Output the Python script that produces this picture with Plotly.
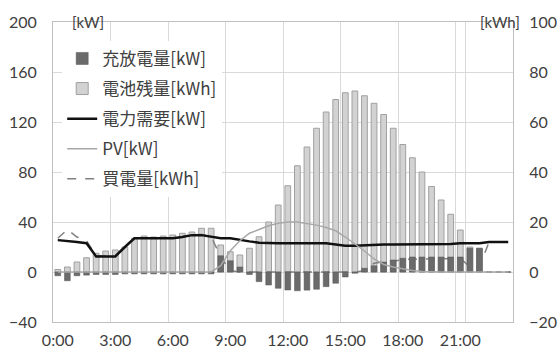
import plotly.graph_objects as go

times = ["0:00", "0:30", "1:00", "1:30", "2:00", "2:30", "3:00", "3:30",
         "4:00", "4:30", "5:00", "5:30", "6:00", "6:30", "7:00", "7:30",
         "8:00", "8:30", "9:00", "9:30", "10:00", "10:30", "11:00", "11:30",
         "12:00", "12:30", "13:00", "13:30", "14:00", "14:30", "15:00", "15:30",
         "16:00", "16:30", "17:00", "17:30", "18:00", "18:30", "19:00", "19:30",
         "20:00", "20:30", "21:00", "21:30", "22:00", "22:30", "23:00", "23:30"]

charge_kw = [-3, -7, -3, -2.5, -2, -2, -2, -1.5,
             -1.5, -1.5, -1.5, -1.5, -1.5, -1.5, -1.5, -1.5,
             -1.5, 13, 9, 4, -2, -7.7, -10.4, -13,
             -14.4, -15, -14.5, -13.8, -11.7, -9, -4, -1,
             3, 5, 8, 9.6, 11, 12, 12, 12,
             12, 12, 12, 19, 19, 0, 0, 0]

battery_kwh = [1.0, 2.0, 4.0, 5.7, 7.5, 8.4, 8.8, 10.0,
               13.5, 14.4, 14.0, 14.4, 14.8, 15.5, 16.0, 17.5,
               17.5, 10.8, 8.1, 6.8, 9.5, 14.1, 20.0, 26.8,
               34.5, 42.5, 50.0, 57.5, 64.0, 69.0, 71.7, 72.4,
               70.5, 67.5, 63.0, 57.5, 51.0, 45.7, 40.0, 34.2,
               28.8, 23.1, 16.8, 10.0, 9.5, 0, 0, 0]

demand_kw = [25.5, 25, 24, 23, 12.5, 12.5, 12.5, 20,
             27, 27, 27, 27, 27, 28, 29.5, 29.5,
             28, 27, 27, 25.5, 24.5, 23.5, 23, 23,
             23, 23, 23, 23, 23, 22, 21, 21,
             21.5, 22, 22, 22, 22, 22.5, 22.5, 22.5,
             22.5, 22.5, 23, 23, 23, 24, 24, 24]

pv_kw = [0, 0, 0, 0, 0, 0, 0, 0,
         0, 0, 0, 0, 0, 0, 0, 0,
         0, 5, 17, 25, 31, 34, 37, 39,
         40, 40, 39, 37.5, 35.6, 33, 28, 22.4,
         16.8, 10.4, 6, 4, 2.4, 1.2, 0.4, 0,
         0, 0, 0, 0, 0, 0, 0, 0]

buy_kwh = [13.5, 17.0, 14.0, 12.5, 6.5, 6.5, 6.5, 10.2,
           13.7, 13.7, 13.7, 13.7, 13.7, 14.2, 15.0, 15.0,
           14.2, 6.0, 0.5, 0, 0, 0, 0, 0,
           0, 0, 0, 0, 0, 0, 0, 0,
           0.5, 3.5, 4.0, 4.3, 5.0, 5.2, 5.3, 5.3,
           5.3, 5.3, 5.5, 2.0, 2.0, 12.0, 12.0, 12.0]

x_tick_labels = ["0:00", "3:00", "6:00", "9:00", "12:00", "15:00", "18:00", "21:00"]
left_ticks = [-40, 0, 40, 80, 120, 160, 200]
right_ticks = [-20, 0, 20, 40, 60, 80, 100]

TXT = "#404040"
GRID = "#d9d9d9"
AXL = "#bfbfbf"
tick_font = dict(family="Lato", size=16, color=TXT)

fig = go.Figure()
fig.add_trace(go.Bar(x=times, y=charge_kw, name="充放電量[kW]", yaxis="y2",
                     marker=dict(color="#6b6b6b", line=dict(color="#555555", width=0.5)),
                     width=0.6, legendgroup="a"))
fig.add_trace(go.Bar(x=times, y=battery_kwh, name="電池残量[kWh]", yaxis="y",
                     marker=dict(color="#d2d2d2", line=dict(color="#a0a0a0", width=1)),
                     width=0.6, legendgroup="b"))
fig.add_trace(go.Scatter(x=times, y=demand_kw, name="電力需要[kW]", yaxis="y2", mode="lines",
                         line=dict(color="#111111", width=2.5), legendgroup="c"))
fig.add_trace(go.Scatter(x=times, y=pv_kw, name="PV[kW]", yaxis="y2", mode="lines",
                         line=dict(color="#a8a8a8", width=1.5), legendgroup="d"))
fig.add_trace(go.Scatter(x=times, y=buy_kwh, name="買電量[kWh]", yaxis="y", mode="lines",
                         line=dict(color="#808080", width=1.5, dash="dash"), legendgroup="e"))

fig.update_layout(
    width=558, height=349,
    margin=dict(l=53, r=45, t=22, b=27),
    paper_bgcolor="white", plot_bgcolor="white",
    barmode="overlay",
    font=dict(family="Lato", color=TXT),
    xaxis=dict(type="category", categoryorder="array", categoryarray=times,
               range=[-0.5, 47.5], tickmode="array", tickvals=x_tick_labels,
               ticktext=x_tick_labels, tickson="boundaries", ticks="",
               tickangle=0, automargin=False,
               showgrid=True, gridcolor=GRID, gridwidth=1,
               showline=True, linecolor=AXL, linewidth=1, mirror=True,
               tickfont=tick_font, ticklabelstandoff=4),
    yaxis=dict(side="right", range=[-20, 100], tickmode="array", tickvals=right_ticks,
               showgrid=True, gridcolor=GRID, gridwidth=1, zeroline=False,
               showline=True, linecolor=AXL, linewidth=1, ticks="", automargin=False,
               tickfont=tick_font, ticklabelstandoff=12),
    yaxis2=dict(side="left", overlaying="y", range=[-40, 200], tickmode="array",
                tickvals=left_ticks, showgrid=False, zeroline=False, automargin=False,
                showline=True, linecolor=AXL, linewidth=1, ticks="",
                tickfont=tick_font, ticklabelstandoff=12),
    legend=dict(x=0.02, y=0.937, xanchor="left", yanchor="top",
                bgcolor="white", borderwidth=0, traceorder="grouped",
                tracegroupgap=5,
                font=dict(family="Noto Sans CJK JP", size=17, color=TXT)),
    annotations=[
        dict(text="[kW]", xref="paper", yref="paper", x=0.037, y=1.0,
             xanchor="left", yanchor="middle", showarrow=False,
             font=dict(family="Lato", size=15, color=TXT)),
        dict(text="[kWh]", xref="paper", yref="paper", x=1.02, y=1.0,
             xanchor="right", yanchor="middle", showarrow=False,
             font=dict(family="Lato", size=15, color=TXT)),
    ],
)

fig.write_html("out.html", config={"displayModeBar": False},
               post_script="document.body.style.margin='0px';document.body.style.overflow='hidden';")
